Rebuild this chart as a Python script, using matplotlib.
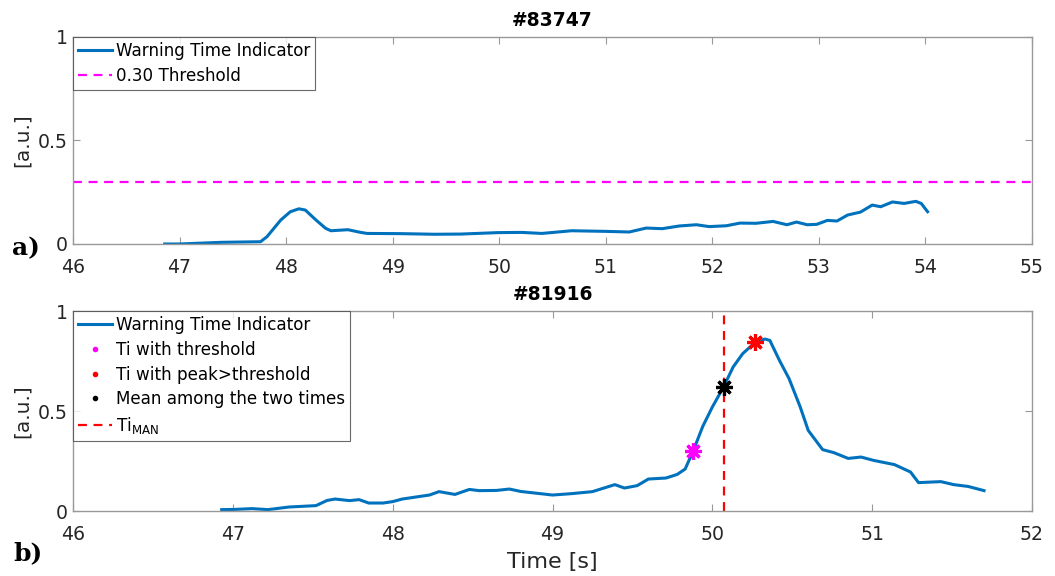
import matplotlib
matplotlib.use("Agg")
import matplotlib.pyplot as plt
from matplotlib.lines import Line2D

plt.rcParams["font.family"] = ["DejaVu Sans"]
plt.rcParams["mathtext.default"] = "regular"

# Shot #83747 (panel a)
t_a = [46.86, 47.0, 47.39, 47.76, 47.82, 47.95, 48.04, 48.12, 48.18, 48.28,
       48.37, 48.42, 48.58, 48.70, 48.76, 49.08, 49.39, 49.64, 49.99, 50.21,
       50.40, 50.68, 51.0, 51.22, 51.38, 51.53, 51.69, 51.85, 51.97, 52.13,
       52.26, 52.41, 52.57, 52.70, 52.79, 52.89, 52.98, 53.08, 53.17, 53.27,
       53.39, 53.50, 53.58, 53.69, 53.80, 53.91, 53.96, 54.02]
w_a = [0.0, 0.0, 0.008, 0.011, 0.035, 0.116, 0.156, 0.170, 0.164, 0.116,
       0.076, 0.064, 0.069, 0.056, 0.051, 0.050, 0.047, 0.048, 0.055, 0.056,
       0.051, 0.064, 0.061, 0.058, 0.077, 0.074, 0.087, 0.093, 0.084, 0.088,
       0.101, 0.100, 0.109, 0.093, 0.106, 0.093, 0.095, 0.114, 0.111, 0.140,
       0.154, 0.188, 0.180, 0.203, 0.196, 0.206, 0.196, 0.156]
threshold = 0.30

# Shot #81916 (panel b)
t_b = [46.93, 47.01, 47.12, 47.22, 47.35, 47.52, 47.59, 47.64, 47.73, 47.79,
       47.85, 47.94, 48.0, 48.06, 48.17, 48.23, 48.29, 48.39, 48.48, 48.54,
       48.65, 48.73, 48.80, 49.0, 49.12, 49.25, 49.39, 49.45, 49.53, 49.60,
       49.71, 49.78, 49.83, 49.88, 49.94, 50.0, 50.07, 50.13, 50.19, 50.27,
       50.33, 50.36, 50.42, 50.48, 50.55, 50.60, 50.69, 50.76, 50.85, 50.93,
       51.01, 51.14, 51.24, 51.29, 51.43, 51.51, 51.60, 51.70]
w_b = [0.007, 0.008, 0.012, 0.007, 0.020, 0.027, 0.053, 0.060, 0.052, 0.057,
       0.040, 0.040, 0.047, 0.060, 0.073, 0.080, 0.097, 0.083, 0.108, 0.102,
       0.103, 0.110, 0.098, 0.080, 0.087, 0.097, 0.132, 0.115, 0.127, 0.160,
       0.165, 0.183, 0.210, 0.300, 0.423, 0.520, 0.620, 0.720, 0.787, 0.845,
       0.860, 0.853, 0.753, 0.662, 0.520, 0.403, 0.307, 0.292, 0.263, 0.270,
       0.253, 0.232, 0.195, 0.142, 0.147, 0.132, 0.123, 0.102]
ti_thr = (49.88, 0.300)
ti_peak = (50.27, 0.845)
ti_mean = (50.07, 0.620)
ti_man = 50.07

blue = "#0072BD"
spine_grey = "#999999"
text_grey = "#262626"

fig = plt.figure(figsize=(10.55, 5.76), dpi=100)
ax1 = fig.add_axes([0.0692, 0.5764, 0.9090, 0.3594])
ax2 = fig.add_axes([0.0692, 0.1128, 0.9090, 0.3472])


def style(ax, xlim, xticks):
    ax.set_xlim(*xlim)
    ax.set_ylim(0, 1)
    ax.set_xticks(xticks)
    ax.set_yticks([0, 0.5, 1])
    ax.set_yticklabels(["0", "0.5", "1"])
    ax.tick_params(direction="in", top=True, right=True, length=5,
                   color=spine_grey, labelsize=13.6, labelcolor=text_grey)
    ax.tick_params(axis="x", pad=10)
    ax.tick_params(axis="y", pad=4)
    for s in ax.spines.values():
        s.set_color(spine_grey)
        s.set_linewidth(1.0)
    ax.set_ylabel("[a.u.]", fontsize=14.5, color=text_grey, labelpad=4)


def legend(ax, handles, labels):
    leg = ax.legend(handles, labels, loc="upper left", fontsize=12.1,
                    frameon=True, fancybox=False, edgecolor="#444444",
                    borderaxespad=0, handlelength=2.0, handletextpad=0.25,
                    borderpad=0.3, labelspacing=0.4)
    leg.get_frame().set_linewidth(0.8)
    return leg


# panel a
l1, = ax1.plot(t_a, w_a, color=blue, lw=2.2)
l2 = ax1.axhline(threshold, color="#FF00FF", lw=1.6, ls=(0, (4, 3)))
style(ax1, (46, 55), range(46, 56))
ax1.set_title("#83747", fontsize=13.5, fontweight="bold", pad=8)
legend(ax1, [l1, l2], ["Warning Time Indicator", "%.2f Threshold" % threshold])

# panel b
ax2.plot(t_b, w_b, color=blue, lw=2.2)
ax2.axvline(ti_man, color="#FF0000", lw=1.6, ls=(0, (4, 3)))
star = (8, 2, 0)
ax2.plot(*ti_thr, marker=star, ms=12, mew=2.3, color="#FF00FF", zorder=5)
ax2.plot(*ti_peak, marker=star, ms=12, mew=2.3, color="#FF0000", zorder=5)
ax2.plot(*ti_mean, marker=star, ms=12, mew=2.3, color="black", zorder=5)
style(ax2, (46, 52), range(46, 53))
ax2.set_title("#81916", fontsize=13.5, fontweight="bold", pad=8)
ax2.set_xlabel("Time [s]", fontsize=16, color=text_grey, labelpad=6)

handles = [
    Line2D([], [], color=blue, lw=2.2),
    Line2D([], [], color="#FF00FF", ls="none", marker=".", ms=6),
    Line2D([], [], color="#FF0000", ls="none", marker=".", ms=6),
    Line2D([], [], color="black", ls="none", marker=".", ms=6),
    Line2D([], [], color="#FF0000", lw=1.6, ls=(0, (4, 3))),
]
labels = ["Warning Time Indicator", "Ti with threshold",
          "Ti with peak>threshold", "Mean among the two times", "Ti$_{MAN}$"]
legend(ax2, handles, labels)

fig.text(0.011, 0.569, "a)", fontsize=18, fontweight="bold",
         family="DejaVu Serif", va="center")
fig.text(0.013, 0.040, "b)", fontsize=18, fontweight="bold",
         family="DejaVu Serif", va="center")

fig.savefig("out.png", dpi=100)
